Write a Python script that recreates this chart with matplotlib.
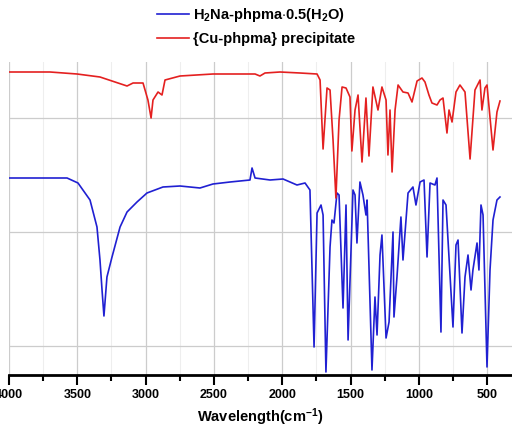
import matplotlib
matplotlib.use("Agg")
import matplotlib.pyplot as plt
from matplotlib.ticker import MultipleLocator, FixedLocator

plt.rcParams['font.family'] = ['Liberation Sans', 'DejaVu Sans']
plt.rcParams['font.weight'] = 'bold'
plt.rcParams['mathtext.fontset'] = 'custom'
plt.rcParams['mathtext.rm'] = 'Liberation Sans:bold'
plt.rcParams['mathtext.it'] = 'Liberation Sans:bold'
plt.rcParams['mathtext.bf'] = 'Liberation Sans:bold'
plt.rcParams['mathtext.default'] = 'rm'

# IR spectra, wavenumber (cm-1) vs transmittance (arbitrary units, offset)
na_wn = [4000, 3575, 3495, 3407, 3356, 3334, 3319, 3305, 3283, 3246, 3187, 3136,
         3063, 2990, 2873, 2748, 2602, 2507, 2382, 2236, 2221, 2199, 2089, 1994,
         1892, 1833, 1797, 1767, 1745, 1716, 1701, 1680, 1650, 1636, 1621, 1599,
         1584, 1555, 1533, 1518, 1482, 1467, 1453, 1431, 1409, 1387, 1379, 1343,
         1321, 1306, 1284, 1270, 1240, 1218, 1189, 1182, 1160, 1131, 1116, 1079,
         1043, 1021, 991, 962, 940, 918, 882, 867, 838, 823, 801, 750, 728, 713,
         684, 662, 640, 618, 604, 574, 560, 545, 530, 501, 479, 457, 428, 406]
na_t = [197, 197, 192, 175, 148, 115, 85, 59, 98, 118, 148, 163,
        173, 182, 188, 189, 187, 191, 193, 195, 207, 197, 195, 196,
        190, 192, 185, 28, 162, 170, 160, 3, 128, 155, 152, 182,
        180, 67, 170, 35, 185, 180, 132, 193, 180, 160, 175, 5,
        78, 40, 120, 140, 37, 53, 143, 58, 98, 158, 115, 182,
        188, 170, 193, 195, 118, 192, 190, 197, 43, 175, 170, 48, 130, 135,
        42, 98, 120, 85, 105, 132, 105, 170, 160, 8, 105, 155, 175, 178]

cu_wn = [4000, 3700, 3502, 3334, 3136, 3092, 3019, 2983, 2960, 2946, 2909, 2880,
         2858, 2748, 2507, 2199, 2163, 2126, 2016, 1870, 1745, 1723, 1701, 1672,
         1650, 1628, 1607, 1584, 1562, 1533, 1504, 1490, 1467, 1445, 1416, 1387,
         1365, 1336, 1299, 1270, 1240, 1226, 1211, 1196, 1174, 1152, 1116, 1079,
         1050, 1013, 977, 955, 926, 904, 867, 845, 823, 794, 779, 757, 728, 699,
         662, 625, 589, 552, 538, 516, 501, 457, 428, 406]
cu_t = [303, 303, 301, 298, 289, 292, 292, 275, 257, 275, 283, 280,
        295, 299, 301, 301, 299, 302, 303, 302, 301, 295, 226, 287,
        285, 235, 177, 255, 288, 287, 278, 224, 265, 280, 213, 277,
        219, 288, 265, 288, 275, 220, 265, 203, 265, 290, 283, 282,
        273, 294, 297, 293, 280, 272, 270, 275, 277, 242, 265, 253, 283, 290,
        283, 216, 285, 295, 265, 287, 290, 225, 263, 274]

grid_levels = [29, 143, 257]

fig = plt.figure(figsize=(5.12, 4.29), dpi=100)
ax = fig.add_axes([9 / 512, 54 / 429, 503 / 512, 313 / 429])

ax.plot(na_wn, na_t, color='#2020d2', lw=1.2,
        label='H$_2$Na-phpma$\\cdot$0.5(H$_2$O)')
ax.plot(cu_wn, cu_t, color='#e42020', lw=1.2,
        label='{Cu-phpma} precipitate')

ax.set_xlim(4000, 318)
ax.set_ylim(0, 313)
ax.xaxis.set_major_locator(MultipleLocator(500))
ax.xaxis.set_minor_locator(MultipleLocator(250))
ax.yaxis.set_major_locator(FixedLocator(grid_levels))
ax.grid(True, which='major', color='#cccccc', lw=0.9)
ax.grid(True, which='minor', axis='x', color='#eeeeee', lw=0.8)
ax.set_axisbelow(True)

for side in ['top', 'right', 'left']:
    ax.spines[side].set_visible(False)
ax.spines['bottom'].set_linewidth(2)
ax.tick_params(axis='y', left=False, labelleft=False)
ax.tick_params(axis='x', which='major', length=7, width=1.5, labelsize=9, pad=3)
ax.tick_params(axis='x', which='minor', length=4, width=1.5)
for lbl in ax.get_xticklabels():
    lbl.set_fontweight('bold')

ax.set_xlabel('Wavelength(cm$^{-1}$)', fontsize=10.5, fontweight='bold', labelpad=4)

fig.legend(loc='upper left', bbox_to_anchor=(157 / 512, 1 - 6 / 429),
           frameon=False, handlelength=2.2, handletextpad=0.25,
           borderpad=0, borderaxespad=0, labelspacing=0.55,
           prop={'weight': 'bold', 'size': 10.5})

fig.savefig('out.png', dpi=100)
